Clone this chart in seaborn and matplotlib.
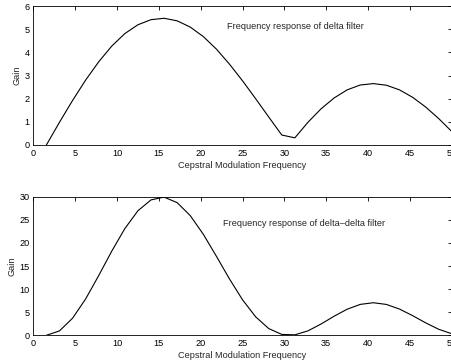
import numpy as np
import pandas as pd
import matplotlib
matplotlib.use("Agg")
import matplotlib.pyplot as plt
import seaborn as sns

# Cepstral modulation frequency (x) for both panels
freq = [1.5625 * k for k in range(1, 33)]

# Gain of delta filter
delta_gain = [0.00, 0.98, 1.92, 2.80, 3.59, 4.27, 4.81, 5.19, 5.41, 5.47,
              5.36, 5.09, 4.68, 4.14, 3.49, 2.77, 2.00, 1.21, 0.43, 0.31,
              0.98, 1.56, 2.03, 2.38, 2.59, 2.65, 2.58, 2.38, 2.06, 1.64,
              1.14, 0.58]

# Gain of delta-delta filter
ddelta_gain = [0.00, 0.95, 3.69, 7.86, 12.92, 18.22, 23.10, 26.96, 29.31, 29.91,
               28.71, 25.91, 21.87, 17.11, 12.20, 7.68, 4.00, 1.46, 0.19, 0.10,
               0.96, 2.44, 4.13, 5.65, 6.69, 7.05, 6.68, 5.68, 4.26, 2.70,
               1.30, 0.34]

xticks = [0, 5, 10, 15, 20, 25, 30, 35, 40, 45, 50]
yticks_top = [0, 1, 2, 3, 4, 5, 6]
yticks_bot = [0, 5, 10, 15, 20, 25, 30]

titles = ["Frequency response of delta filter",
          "Frequency response of delta\u2013delta filter"]
xlabel = "Cepstral Modulation Frequency"
ylabel = "Gain"

sns.set_theme(style="white")
plt.rcParams['font.family'] = ['Liberation Sans', 'DejaVu Sans']
plt.rcParams['axes.linewidth'] = 0.6

W, H = 451, 362
fig = plt.figure(figsize=(W / 100, H / 100), dpi=100)

def fx(px):
    return px / W

def fy(py):
    return 1 - py / H

FS = 6.6
left_px, right_px = 33.3, 451.8
ax1 = fig.add_axes([fx(left_px), fy(145), fx(right_px - left_px), (145 - 6) / H])
ax2 = fig.add_axes([fx(left_px), fy(335.3), fx(right_px - left_px), (335.3 - 196.7) / H])

df1 = pd.DataFrame({"freq": freq, "gain": delta_gain})
df2 = pd.DataFrame({"freq": freq, "gain": ddelta_gain})

panels = [(ax1, df1, yticks_top, titles[0], (23.2, 5.1)),
          (ax2, df2, yticks_bot, titles[1], (22.7, 24.2))]

for ax, df, yt, title, (tx, ty) in panels:
    sns.lineplot(data=df, x="freq", y="gain", ax=ax, color="black",
                 linewidth=0.8, estimator=None, sort=False)
    ax.set_xlim(0, 50)
    ax.set_ylim(yt[0], yt[-1])
    ax.set_xticks(xticks)
    ax.set_yticks(yt)
    ax.tick_params(direction="in", top=True, right=True, length=3,
                   width=0.6, labelsize=FS, pad=3, colors="black")
    ax.tick_params(axis="y", pad=2.5)
    ax.set_xlabel(xlabel, fontsize=FS, labelpad=2)
    ax.set_ylabel(ylabel, fontsize=FS, labelpad=2)
    for s in ax.spines.values():
        s.set_color("black")
        s.set_linewidth(0.6)
    ax.text(tx, ty, title, fontsize=FS, va="center", ha="left")

fig.savefig("out.png", dpi=100)
